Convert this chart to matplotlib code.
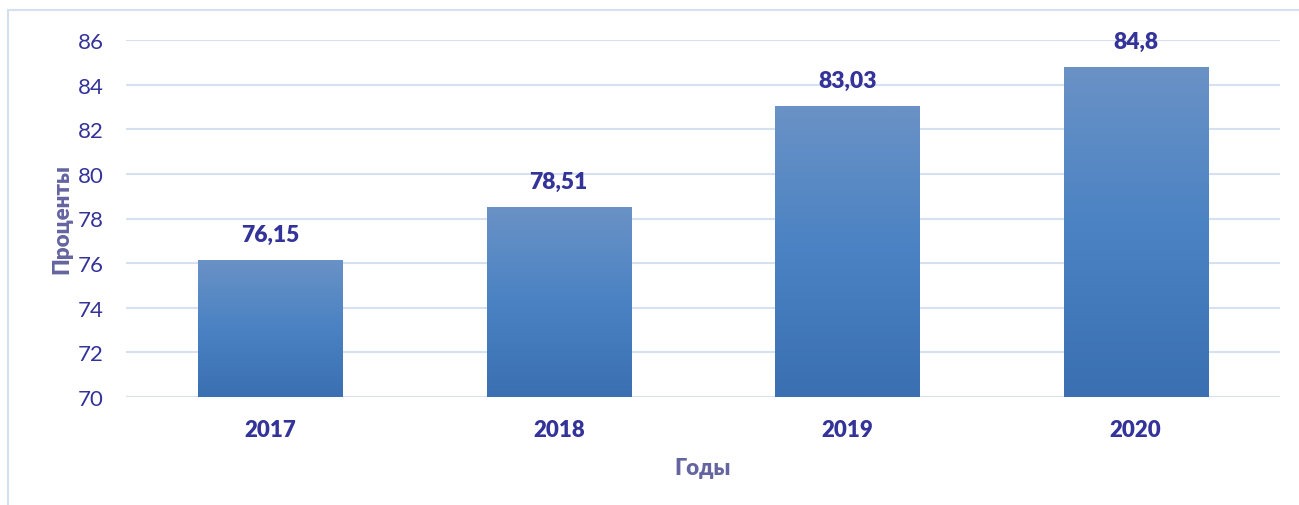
import numpy as np
import matplotlib
matplotlib.use("Agg")
import matplotlib.pyplot as plt
from matplotlib.colors import LinearSegmentedColormap
from matplotlib.patches import Rectangle

years = ["2017", "2018", "2019", "2020"]
values = [76.15, 78.51, 83.03, 84.8]
labels = ["76,15", "78,51", "83,03", "84,8"]
yticks = [70, 72, 74, 76, 78, 80, 82, 84, 86]

plt.rcParams['font.family'] = ['Lato', 'DejaVu Sans']

W, H = 1299, 506
fig = plt.figure(figsize=(W / 100, H / 100), dpi=100)
ax = fig.add_axes([126 / W, 1 - 398 / H, (1280 - 126) / W, (398 - 41) / H])

text_col = '#333399'
title_col = '#6464A0'
grid_col = '#D5E1F1'

x = np.arange(len(years))
bars = ax.bar(x, [v - 70 for v in values], bottom=70, width=0.5, color='none', zorder=3)

cmap = LinearSegmentedColormap.from_list('g', ['#3A70B1', '#4A82C3', '#6A92C6'])
grad = np.linspace(0, 1, 256).reshape(-1, 1)
for b in bars:
    x0, y0 = b.get_x(), b.get_y()
    w, h = b.get_width(), b.get_height()
    im = ax.imshow(grad, cmap=cmap, aspect='auto', origin='lower',
                   extent=[x0, x0 + w, y0, y0 + h], zorder=3)
    im.set_clip_path(b)

for xi, v, lab in zip(x, values, labels):
    ax.annotate(lab, (xi, v), xytext=(0, 11), textcoords='offset points',
                ha='center', va='bottom', fontsize=16.5, fontweight='heavy',
                color=text_col, zorder=4)

ax.set_xlim(-0.5, len(years) - 0.5)
ax.set_ylim(70, 86)
ax.set_yticks(yticks)
ax.set_yticklabels([str(t) for t in yticks], fontsize=16, color=text_col)
ax.set_xticks(x)
ax.set_xticklabels(years, fontsize=16, fontweight='heavy', color=text_col)
ax.tick_params(axis='y', length=0, pad=16)
ax.tick_params(axis='x', length=0, pad=16)
ax.grid(axis='y', color=grid_col, linewidth=1.5, zorder=0)
ax.set_axisbelow(True)
for s in ax.spines.values():
    s.set_visible(False)

ax.set_ylabel('Проценты', fontsize=16, fontweight='heavy', color=title_col, labelpad=4)
ax.set_xlabel('Годы', fontsize=16, fontweight='heavy', color=title_col, labelpad=12)

fig.patches.append(Rectangle((8 / W, -0.1), 1.1, 1 - 11 / H + 0.1,
                             transform=fig.transFigure, fill=False,
                             edgecolor='#D5E1F1', linewidth=1.5))

fig.savefig('out.png', dpi=100)
